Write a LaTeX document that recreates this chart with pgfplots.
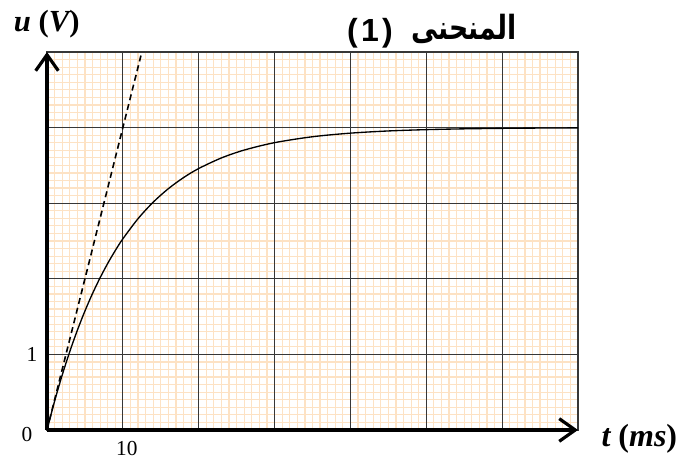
\documentclass[border=0pt]{standalone}
\usepackage{fontspec}
\setmainfont{Liberation Serif}
\newfontfamily\sansfont{Liberation Sans}
\newfontfamily\arabicfont[Script=Arabic]{DejaVu Sans}
\TeXXeTstate=1
\usepackage{pgfplots}
\pgfplotsset{compat=1.18}
\usetikzlibrary{arrows.meta}
\definecolor{peach}{RGB}{253,226,196}
\definecolor{gridmaj}{RGB}{55,55,55}

\pgfplotstableread{
t u
0 0
1 0.3807
2 0.7251
3 1.0367
4 1.3187
5 1.5739
6 1.8048
7 2.0137
8 2.2027
9 2.3737
10 2.5285
12 2.7952
14 3.0136
16 3.1924
18 3.3388
20 3.4587
23 3.5990
26 3.7029
30 3.8009
35 3.8792
40 3.9267
45 3.9556
50 3.9730
55 3.9837
60 3.9901
65 3.9940
70 3.9964
}\curvedata

\pgfplotstableread{
t u
0 0
12.5 5
}\tangentdata

\begin{document}
\begin{tikzpicture}[x=1pt,y=1pt]
\path[use as bounding box] (0,0) rectangle (524.25,344.25);
\begin{axis}[
  at={(35.25pt,21.75pt)}, anchor=south west,
  scale only axis, width=398.25pt, height=283.5pt,
  xmin=0, xmax=70, ymin=0, ymax=5,
  xtick={0,10,...,70}, xticklabels={,10,,,,,,},
  ytick={0,1,...,5}, yticklabels={,1,,,,},
  minor x tick num=9, minor y tick num=9,
  grid=minor,
  minor grid style={color=peach, line width=0.9pt},
  major tick length=0pt, minor tick length=0pt,
  axis line style={gridmaj, line width=0.9pt},
  /pgf/number format/assume math mode=true,
  tick label style={font=\fontsize{16}{16}\selectfont},
  xticklabel style={anchor=north, yshift=-5pt, xshift=3pt},
  yticklabel style={anchor=center, xshift=-11.25pt},
  clip=false
]
\pgfplotsinvokeforeach{10,20,30,40,50,60}{
  \draw[gridmaj, line width=0.9pt] (axis cs:#1,0) -- (axis cs:#1,5);
}
\pgfplotsinvokeforeach{1,2,3,4}{
  \draw[gridmaj, line width=0.9pt] (axis cs:0,#1) -- (axis cs:70,#1);
}
\addplot[black, line width=1pt, no marks, smooth] table[x=t,y=u] {\curvedata};
\addplot[black, line width=1.2pt, no marks, dash pattern=on 4.5pt off 3pt] table[x=t,y=u] {\tangentdata};
\draw[line width=3pt, -{Straight Barb[length=12pt,width=17pt,line width=2.4pt]}] (axis cs:0,0) -- (axis cs:70,0);
\draw[line width=3pt, -{Straight Barb[length=12pt,width=17pt,line width=2.4pt]}] (axis cs:0,0) -- (axis cs:0,5);
\node[font=\fontsize{16}{16}\selectfont] at ([xshift=-15pt,yshift=-3.75pt]axis cs:0,0) {0};
\end{axis}
\node[font=\fontsize{23}{23}\selectfont\bfseries\itshape] at (35,326) {u \upshape(\itshape V\upshape)};
\node[font=\fontsize{24}{24}\selectfont\bfseries\itshape] at (479.5,15) {t \upshape(\itshape ms\upshape)};
\node[anchor=base, inner sep=0pt, font=\fontsize{24}{24}\selectfont\bfseries\sansfont] at (277.5,312.75) {(\kern2.5pt1\kern2.5pt)};
\node[anchor=base, inner sep=0pt] at (348,314.25) {\scalebox{0.8}[1]{\fontsize{25}{25}\selectfont\bfseries\arabicfont\beginR المنحنى\endR}};
\end{tikzpicture}
\end{document}
